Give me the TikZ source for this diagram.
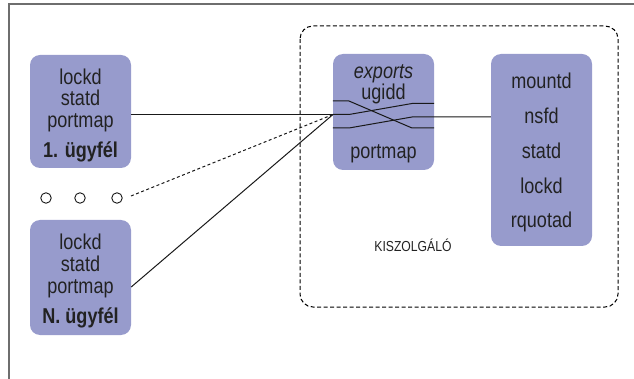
\documentclass[tikz,border=0pt]{standalone}
\usepackage{fontspec}
\setmainfont{Liberation Sans}[FakeStretch=0.84]
\usetikzlibrary{calc}
\definecolor{boxfill}{HTML}{979BCC}
\definecolor{txtcol}{HTML}{222222}
\definecolor{framecol}{HTML}{6E6E6E}
\begin{document}
\begin{tikzpicture}[x=1pt,y=-1pt,
  box/.style={fill=boxfill, rounded corners=10pt, draw=none},
  txt/.style={anchor=base, inner sep=0pt, text=txtcol, font=\fontsize{21.5}{24}\selectfont},
  small/.style={anchor=center, inner sep=0pt, text=txtcol, font=\fontsize{14.5}{16}\selectfont},
  conn/.style={line width=1pt, draw=black!90},
  dconn/.style={line width=1pt, draw=black!90, dash pattern=on 3pt off 2.5pt},
  dot/.style={circle, draw=black!90, line width=0.9pt, minimum size=10.5pt, inner sep=0pt},
]
\useasboundingbox (0,0) rectangle (634,379);
% outer frame (only left and top edges visible)
\draw[framecol, line width=2pt] (9,379) -- (9,4) -- (634,4);

% server dashed region
\draw[line width=1pt, dash pattern=on 4pt off 2.5pt, rounded corners=13pt] (300,26) rectangle (618,307);
\node[small] (kisz) at (413,245) {KISZOLGÁLÓ};

% client 1
\path[box] (30,55) rectangle (131,168);
\node[inner sep=0pt, minimum width=101pt, minimum height=113pt] (c1box) at (80.5,111.5) {};
\node[txt] (c1a) at (80.5,84.5) {lockd};
\node[txt] (c1b) at (80.5,106) {statd};
\node[txt] (c1c) at (80.5,127.5) {portmap};
\node[txt] (c1d) at (80.5,157.5) {\bfseries 1. ügyfél};

% dots
\node[dot] (d1) at (46,198) {};
\node[dot] (d2) at (80,198) {};
\node[dot] (d3) at (117,198) {};
\coordinate (dstart) at (131,196);

% client N
\path[box] (30,220) rectangle (131,335);
\node[inner sep=0pt, minimum width=101pt, minimum height=115pt] (cNbox) at (80.5,277.5) {};
\node[txt] (cNa) at (80.5,250) {lockd};
\node[txt] (cNb) at (80.5,271.5) {statd};
\node[txt] (cNc) at (80.5,293) {portmap};
\node[txt] (cNd) at (80.5,323) {\bfseries N. ügyfél};

% exports box
\path[box] (333,54) rectangle (434,170);
\node[inner sep=0pt, minimum width=101pt, minimum height=116pt] (exbox) at (383.5,112) {};
\node[txt] (exa) at (383.5,78.5) {\itshape exports};
\node[txt] (exb) at (383.5,100) {ugidd};
\node[txt] (exc) at (383.5,159) {portmap};

% server box
\path[box] (491,54) rectangle (592,246);
\node[inner sep=0pt, minimum width=101pt, minimum height=192pt] (svbox) at (541.5,150) {};
\node[txt] (sva) at (541.5,89) {mountd};
\node[txt] (svb) at (541.5,124) {nsfd};
\node[txt] (svc) at (541.5,159) {statd};
\node[txt] (svd) at (541.5,193.5) {lockd};
\node[txt] (sve) at (541.5,228) {rquotad};

% convergence point
\coordinate (P) at (333,114.5);

% connectors from clients
\draw[conn] (c1box.east |- P) -- (P);
\draw[dconn] (dstart) -- (P);
\draw[conn] (cNbox.east |- 0,287) -- (P);

% crossing lines inside exports box
\draw[conn] (exbox.west |- 0,101) -- (349,101) -- (412,128) -- (exbox.east |- 0,128);
\draw[conn] (P) -- (349,114.5) -- (412,103.5) -- (exbox.east |- 0,103.5);
\draw[conn] (exbox.west |- 0,128) -- (349,128) -- (412,117) -- (svbox.west |- 0,117);
\end{tikzpicture}
\end{document}
